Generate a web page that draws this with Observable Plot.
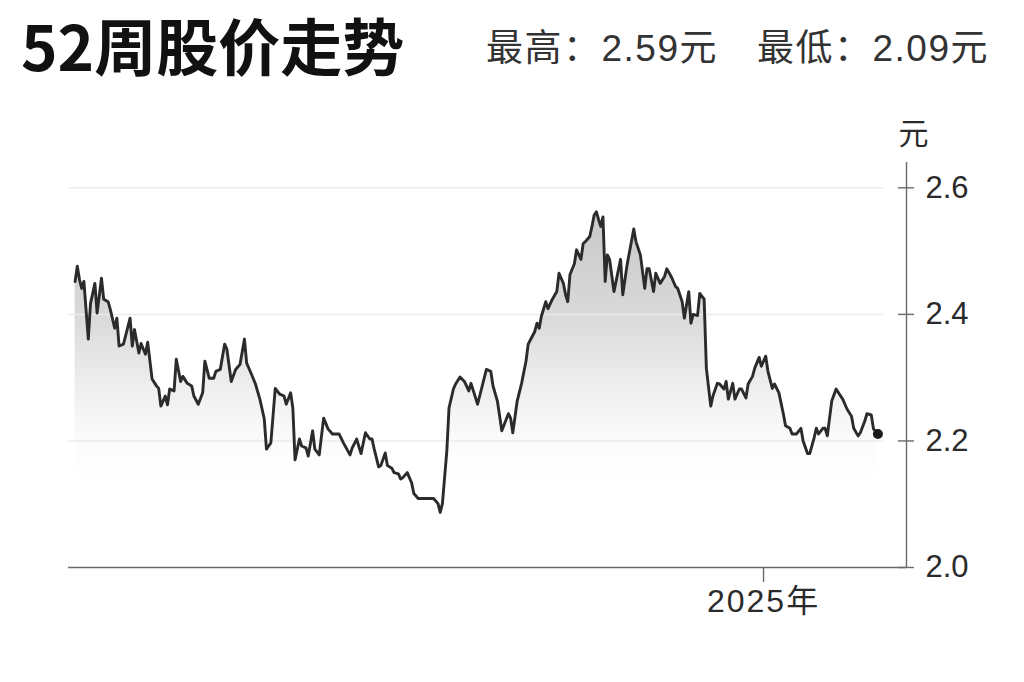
<!DOCTYPE html>
<html>
<head>
<meta charset="utf-8">
<script src="https://cdn.jsdelivr.net/npm/d3@7"></script>
<script src="https://cdn.jsdelivr.net/npm/@observablehq/plot@0.6"></script>
<style>
  html, body { margin: 0; padding: 0; background: #fff; }
  #wrap { position: relative; width: 1024px; height: 682px; overflow: hidden; background: #fff; }
  #title { position: absolute; left: 21px; top: 13px; font-family: "Noto Sans CJK SC", sans-serif; font-weight: 700; font-size: 62px; line-height: 1; color: #111; white-space: nowrap; }
  .sub { position: absolute; top: 30px; font-family: "Liberation Sans", "Noto Sans CJK SC", sans-serif; font-size: 37px; line-height: 1; color: #333; white-space: nowrap; letter-spacing: 1.5px; }
  #chart { position: absolute; left: 0; top: 100px; }
  #chart g[aria-label="x-axis tick label"] text { letter-spacing: 2px; }
</style>
</head>
<body>
<div id="wrap">
  <div id="title"></div>
  <div class="sub" id="hi" style="left:486px"></div>
  <div class="sub" id="lo" style="left:757px"></div>
  <div id="chart"></div>
</div>
<script>
const titleText = "52周股价走势";
const highLabel = "最高：2.59元";
const lowLabel = "最低：2.09元";
const unitLabel = "元";
const yearTickDate = "2025-01-01";
const yearTickLabel = "2025年";
const xDomain = ["2024-02-20", "2025-03-07"];
const yDomain = [2.0, 2.64];
const yTicks = [2.0, 2.2, 2.4, 2.6];
const gridTicks = [2.2, 2.4, 2.6];

const dates = [
"2024-02-23","2024-02-24","2024-02-25","2024-02-26","2024-02-27","2024-02-29","2024-03-01","2024-03-03","2024-03-04","2024-03-06",
"2024-03-07","2024-03-09","2024-03-10","2024-03-12","2024-03-13","2024-03-14","2024-03-16","2024-03-19","2024-03-20","2024-03-21",
"2024-03-23","2024-03-24","2024-03-26","2024-03-27","2024-03-29","2024-03-31","2024-04-01","2024-04-02","2024-04-04","2024-04-05",
"2024-04-06","2024-04-08","2024-04-09","2024-04-11","2024-04-12","2024-04-14","2024-04-16","2024-04-17","2024-04-19","2024-04-21",
"2024-04-22","2024-04-24","2024-04-26","2024-04-27","2024-04-29","2024-05-01","2024-05-02","2024-05-04","2024-05-06","2024-05-08",
"2024-05-10","2024-05-11","2024-05-13","2024-05-15","2024-05-17","2024-05-19","2024-05-20","2024-05-22","2024-05-24","2024-05-26",
"2024-05-28","2024-05-29","2024-05-31","2024-06-01","2024-06-02","2024-06-04","2024-06-05","2024-06-07","2024-06-08","2024-06-10",
"2024-06-11","2024-06-13","2024-06-15","2024-06-17","2024-06-19","2024-06-22","2024-06-24","2024-06-27","2024-06-28","2024-06-30",
"2024-07-02","2024-07-04","2024-07-06","2024-07-07","2024-07-08","2024-07-10","2024-07-11","2024-07-13","2024-07-14","2024-07-16",
"2024-07-17","2024-07-19","2024-07-20","2024-07-21","2024-07-23","2024-07-25","2024-07-26","2024-07-28","2024-08-04","2024-08-06",
"2024-08-07","2024-08-08","2024-08-10","2024-08-11","2024-08-13","2024-08-14","2024-08-16","2024-08-18","2024-08-20","2024-08-21",
"2024-08-24","2024-08-28","2024-08-30","2024-08-31","2024-09-02","2024-09-04","2024-09-07","2024-09-08","2024-09-09","2024-09-11",
"2024-09-13","2024-09-15","2024-09-16","2024-09-19","2024-09-20","2024-09-21","2024-09-22","2024-09-24","2024-09-25","2024-09-27",
"2024-09-29","2024-09-30","2024-10-02","2024-10-03","2024-10-04","2024-10-05","2024-10-07","2024-10-08","2024-10-10","2024-10-11",
"2024-10-12","2024-10-14","2024-10-15","2024-10-16","2024-10-17","2024-10-18","2024-10-19","2024-10-20","2024-10-21","2024-10-22",
"2024-10-23","2024-10-25","2024-10-28","2024-10-29","2024-10-31","2024-11-03","2024-11-04","2024-11-06","2024-11-08","2024-11-09",
"2024-11-10","2024-11-12","2024-11-13","2024-11-15","2024-11-17","2024-11-18","2024-11-20","2024-11-22","2024-11-23","2024-11-25",
"2024-11-26","2024-11-28","2024-11-29","2024-11-30","2024-12-02","2024-12-03","2024-12-05","2024-12-06","2024-12-08","2024-12-09",
"2024-12-11","2024-12-12","2024-12-14","2024-12-15","2024-12-16","2024-12-18","2024-12-19","2024-12-21","2024-12-22","2024-12-24",
"2024-12-25","2024-12-27","2024-12-28","2024-12-30","2024-12-31","2025-01-02","2025-01-03","2025-01-05","2025-01-06","2025-01-08",
"2025-01-10","2025-01-11","2025-01-13","2025-01-14","2025-01-16","2025-01-18","2025-01-19","2025-01-21","2025-01-22","2025-01-24",
"2025-01-25","2025-01-26","2025-01-28","2025-01-29","2025-01-30","2025-02-01","2025-02-03","2025-02-06","2025-02-08","2025-02-10",
"2025-02-11","2025-02-13","2025-02-14","2025-02-16","2025-02-17","2025-02-19","2025-02-20","2025-02-22"
];

const prices = [
2.452,2.476,2.455,2.441,2.452,2.361,2.417,2.449,2.402,2.457,
2.424,2.420,2.408,2.378,2.394,2.350,2.353,2.394,2.350,2.376,
2.339,2.354,2.337,2.356,2.298,2.287,2.283,2.255,2.271,2.257,
2.282,2.279,2.329,2.294,2.302,2.291,2.287,2.271,2.258,2.276,
2.326,2.299,2.299,2.310,2.313,2.353,2.345,2.294,2.313,2.321,
2.361,2.323,2.307,2.290,2.266,2.235,2.187,2.197,2.283,2.274,
2.271,2.258,2.276,2.252,2.170,2.203,2.192,2.189,2.176,2.216,
2.187,2.178,2.236,2.219,2.211,2.211,2.197,2.178,2.189,2.203,
2.180,2.213,2.203,2.203,2.187,2.159,2.161,2.181,2.161,2.157,
2.150,2.148,2.140,2.142,2.150,2.134,2.117,2.109,2.109,2.101,
2.087,2.101,2.184,2.252,2.282,2.290,2.301,2.294,2.279,2.291,
2.258,2.313,2.310,2.287,2.263,2.216,2.243,2.236,2.213,2.263,
2.291,2.326,2.353,2.373,2.386,2.378,2.397,2.420,2.409,2.424,
2.436,2.465,2.449,2.431,2.420,2.463,2.480,2.502,2.487,2.512,
2.515,2.523,2.539,2.557,2.562,2.550,2.539,2.554,2.452,2.494,
2.487,2.436,2.487,2.431,2.479,2.535,2.515,2.494,2.441,2.472,
2.472,2.436,2.465,2.449,2.460,2.472,2.460,2.444,2.441,2.420,
2.394,2.436,2.386,2.400,2.398,2.433,2.424,2.315,2.255,2.271,
2.291,2.290,2.282,2.294,2.266,2.291,2.266,2.282,2.282,2.268,
2.290,2.302,2.315,2.332,2.318,2.334,2.310,2.283,2.290,2.276,
2.243,2.224,2.220,2.211,2.211,2.220,2.200,2.180,2.180,2.205,
2.220,2.211,2.220,2.220,2.208,2.263,2.282,2.266,2.250,2.239,
2.220,2.208,2.213,2.231,2.243,2.241,2.219,2.211
];

document.getElementById("title").textContent = titleText;
document.getElementById("hi").textContent = highLabel;
document.getElementById("lo").textContent = lowLabel;

const data = dates.map((d, i) => ({date: new Date(d), price: prices[i]}));
const last = data[data.length - 1];
const xDom = xDomain.map(d => new Date(d));

function gradientDefs() {
  const ns = "http://www.w3.org/2000/svg";
  const defs = document.createElementNS(ns, "defs");
  const g = document.createElementNS(ns, "linearGradient");
  g.setAttribute("id", "areaGrad");
  g.setAttribute("x1", "0"); g.setAttribute("y1", "0");
  g.setAttribute("x2", "0"); g.setAttribute("y2", "1");
  [["0", "#c8c8c8"], ["0.29", "#d9d9d9"], ["0.47", "#ececec"], ["0.64", "#fbfbfb"], ["0.76", "#ffffff"], ["1", "#ffffff"]].forEach(([o, c]) => {
    const s = document.createElementNS(ns, "stop");
    s.setAttribute("offset", o);
    s.setAttribute("stop-color", c);
    g.appendChild(s);
  });
  defs.appendChild(g);
  return defs;
}

const chart = Plot.plot({
  width: 1024,
  height: 582,
  marginLeft: 68,
  marginRight: 118,
  marginTop: 62,
  marginBottom: 115,
  style: {fontFamily: "'Liberation Sans', 'Noto Sans CJK SC', sans-serif", fontSize: "31px", color: "#333", background: "transparent", overflow: "visible"},
  x: {type: "utc", domain: xDom},
  y: {domain: yDomain},
  marks: [
    gradientDefs,
    Plot.areaY(data, {x: "date", y1: yDomain[0], y2: "price", fill: "url(#areaGrad)"}),
    Plot.ruleY(gridTicks, {stroke: "#ececec", strokeWidth: 1.5, insetRight: 23}),
    Plot.ruleY([yDomain[0]], {stroke: "#6a6a6a", strokeWidth: 1.4}),
    Plot.ruleX([xDom[1]], {stroke: "#6a6a6a", strokeWidth: 1.4}),
    Plot.axisY({anchor: "right", ticks: yTicks, tickSize: 16, dx: -9, tickFormat: () => "", stroke: "#6a6a6a", strokeWidth: 1.4, label: null}),
    Plot.axisY({anchor: "right", ticks: yTicks, tickSize: 0, tickPadding: 19, tickFormat: d3.format(".1f"), fill: "#2a2a2a", fontSize: 31, label: null}),
    Plot.axisX([new Date(yearTickDate)], {anchor: "bottom", tickSize: 15, tickPadding: 7, tickFormat: () => yearTickLabel, stroke: "#6a6a6a", strokeWidth: 1.4, fill: "#2a2a2a", fontSize: 32, label: null}),
    Plot.text([unitLabel], {frameAnchor: "top-right", lineAnchor: "middle", dx: 7, dy: -28, textAnchor: "middle", fontSize: 30, fill: "#2a2a2a", fontFamily: "'Noto Sans CJK SC', sans-serif"}),
    Plot.lineY(data, {x: "date", y: "price", stroke: "#2b2b2b", strokeWidth: 2.9, strokeLinejoin: "round"}),
    Plot.dot([last], {x: "date", y: "price", r: 5, fill: "#1a1a1a", stroke: "none"})
  ]
});
document.getElementById("chart").appendChild(chart);
</script>
</body>
</html>
